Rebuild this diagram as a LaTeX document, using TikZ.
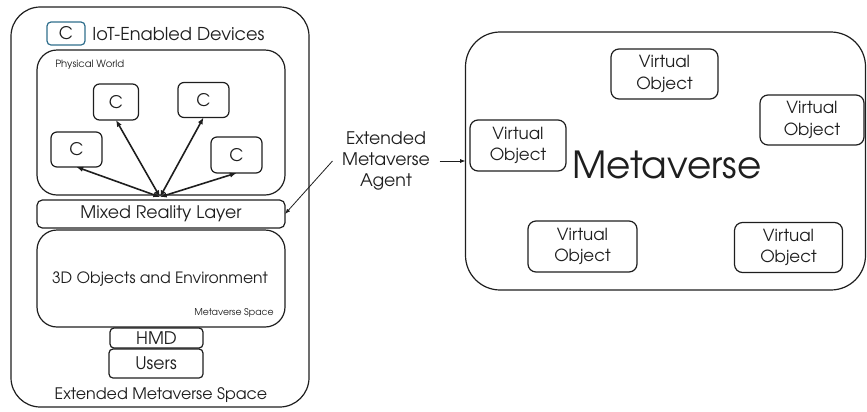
\documentclass[tikz,border=0pt]{standalone}
\usepackage{fontspec}
\setmainfont{TeX Gyre Adventor}
\usetikzlibrary{arrows.meta}
\definecolor{ink}{HTML}{1E1E1E}
\definecolor{legend}{HTML}{2F6E8C}
\begin{document}
\begin{tikzpicture}[x=0.75pt,y=-0.75pt,
  box/.style={draw=ink, line width=0.9pt, rounded corners=#1, inner sep=0pt, outer sep=0pt, text=ink, align=center},
  box/.default=6pt,
  sz/.style 2 args={minimum width=#1*0.75pt, minimum height=#2*0.75pt},
  lbl/.style={text=ink, inner sep=0pt, align=center},
  fvo/.style={font=\fontsize{12.5}{16}\selectfont},
  fmid/.style={font=\fontsize{13}{16}\selectfont},
  biarrow/.style={{Latex[length=5pt,width=4pt]}-{Latex[length=5pt,width=4pt]}, line width=1.2pt, draw=ink},
  thin/.style={-{Latex[length=4pt,width=3pt]}, line width=0.6pt, draw=ink}]
\useasboundingbox (0,0) rectangle (867,411);
% left panel
\node[box=22pt, sz={298}{400}] (ems) at (160,207) {};
\node[box=3pt, draw=legend, sz={38}{23}, fmid] (leg) at (66,33.5) {C};
\node[lbl, anchor=west, font=\fontsize{13.3}{16}\selectfont] (legtxt) at (92,34) {IoT-Enabled Devices};
\node[box=15pt, sz={248}{145}] (pw) at (161,122.5) {};
\node[lbl, anchor=north west, font=\fontsize{7.5}{9}\selectfont] (pwl) at (55,60) {Physical World};
\node[box=4.5pt, sz={45}{36}, fmid] (c1) at (116,102) {C};
\node[box=4.5pt, sz={51}{35}, fmid] (c2) at (203.5,100) {C};
\node[box=4.5pt, sz={51}{35}, fmid] (c3) at (76.5,149.5) {C};
\node[box=4.5pt, sz={51}{36}, fmid] (c4) at (236.5,155) {C};
\coordinate (hub) at (160,197);
\draw[biarrow] (hub) -- (c3.south);
\draw[biarrow] (hub) -- (c1.south);
\draw[biarrow] (hub) -- (c2.south);
\draw[biarrow] (hub) -- (c4.south);
\node[box=4pt, sz={248}{28}, fmid] (mr) at (161,214) {Mixed Reality Layer};
\node[box=15pt, sz={248}{97}] (obj) at (161,278.5) {};
\node[lbl, font=\fontsize{11.7}{14}\selectfont] (objt) at (160,279) {3D Objects and Environment};
\node[lbl, anchor=east, font=\fontsize{7}{9}\selectfont] (msp) at (274,313) {Metaverse Space};
\node[box=3pt, sz={93}{20}, fmid] (hmd) at (156.5,338) {HMD};
\node[box=3pt, sz={94}{29}, fmid] (users) at (156,363.5) {Users};
\node[lbl, font=\fontsize{11.9}{15}\selectfont] (emsl) at (161,395) {Extended Metaverse Space};
% agent
\node[lbl, inner xsep=7pt, fmid, align=center] (agent) at (386,161) {Extended\\Metaverse\\Agent};
% right panel
\node[box=26pt, sz={400}{258}] (meta) at (665.5,161) {};
\node[lbl, anchor=base, font=\fontsize{28}{32}\selectfont] (metat) at (667,178) {Metaverse};
\node[box, sz={107}{50}, fvo] (vo1) at (664.5,74) {Virtual\\Object};
\node[box, sz={104}{50}, fvo] (vo2) at (812,120) {Virtual\\Object};
\node[box, sz={96}{51}, fvo] (vo3) at (518,145.5) {Virtual\\Object};
\node[box, sz={109}{51}, fvo] (vo4) at (582.5,246.5) {Virtual\\Object};
\node[box, sz={108}{50}, fvo] (vo5) at (788.5,247.5) {Virtual\\Object};
\draw[thin] (agent.west) -- (mr.east);
\draw[thin] (agent.east) -- (meta.west);
\end{tikzpicture}
\end{document}
